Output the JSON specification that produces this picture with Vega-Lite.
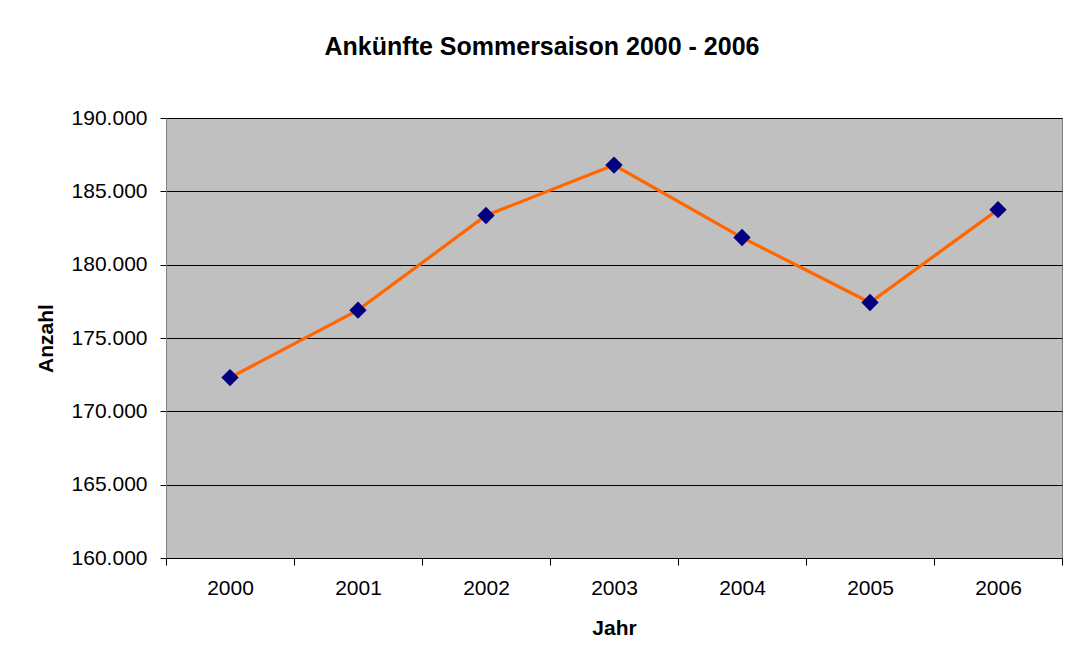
{
  "$schema": "https://vega.github.io/schema/vega-lite/v6.json",
  "width": 896,
  "height": 440,
  "autosize": {"type": "none"},
  "padding": {"left": 166, "top": 118, "right": 8, "bottom": 108},
  "background": "white",
  "title": {
    "text": "Ankünfte Sommersaison 2000 - 2006",
    "font": "Liberation Sans",
    "fontSize": 25,
    "fontWeight": "bold",
    "color": "black",
    "anchor": "middle",
    "dx": -72,
    "offset": 47
  },
  "data": {
    "values": [
      {"Jahr": "2000", "Anzahl": 172300},
      {"Jahr": "2001", "Anzahl": 176900},
      {"Jahr": "2002", "Anzahl": 183350},
      {"Jahr": "2003", "Anzahl": 186790},
      {"Jahr": "2004", "Anzahl": 181850},
      {"Jahr": "2005", "Anzahl": 177420},
      {"Jahr": "2006", "Anzahl": 183750}
    ]
  },
  "encoding": {
    "x": {
      "field": "Jahr",
      "type": "ordinal",
      "title": "Jahr",
      "scale": {"paddingInner": 0, "paddingOuter": 0},
      "axis": {
        "labelAngle": 0,
        "tickBand": "extent",
        "ticks": true,
        "tickSize": 7,
        "tickColor": "black",
        "domainColor": "black",
        "grid": false,
        "labelFont": "Liberation Sans",
        "labelFontSize": 21,
        "labelColor": "black",
        "labelPadding": 12,
        "titleFont": "Liberation Sans",
        "titleFontSize": 21,
        "titleFontWeight": "bold",
        "titleColor": "black",
        "titlePadding": 19
      }
    },
    "y": {
      "field": "Anzahl",
      "type": "quantitative",
      "title": "Anzahl",
      "scale": {"domain": [160000, 190000], "nice": false, "zero": false},
      "axis": {
        "values": [160000, 165000, 170000, 175000, 180000, 185000, 190000],
        "format": ",d",
        "grid": true,
        "gridColor": "black",
        "gridOpacity": 1,
        "gridWidth": 1,
        "tickSize": 6,
        "tickColor": "black",
        "domainColor": "#808080",
        "labelFont": "Liberation Sans",
        "labelFontSize": 21,
        "labelColor": "black",
        "labelPadding": 13,
        "titleFont": "Liberation Sans",
        "titleFontSize": 21,
        "titleFontWeight": "bold",
        "titleColor": "black",
        "titlePadding": 15
      }
    }
  },
  "layer": [
    {"mark": {"type": "line", "color": "#FF6600", "strokeWidth": 3.2}},
    {"mark": {"type": "point", "shape": "diamond", "filled": true, "color": "#000080", "size": 300, "opacity": 1}}
  ],
  "config": {
    "locale": {
      "number": {"decimal": ",", "thousands": ".", "grouping": [3], "currency": ["", " €"]}
    },
    "view": {"fill": "#C0C0C0", "stroke": "#808080", "strokeWidth": 1}
  }
}
